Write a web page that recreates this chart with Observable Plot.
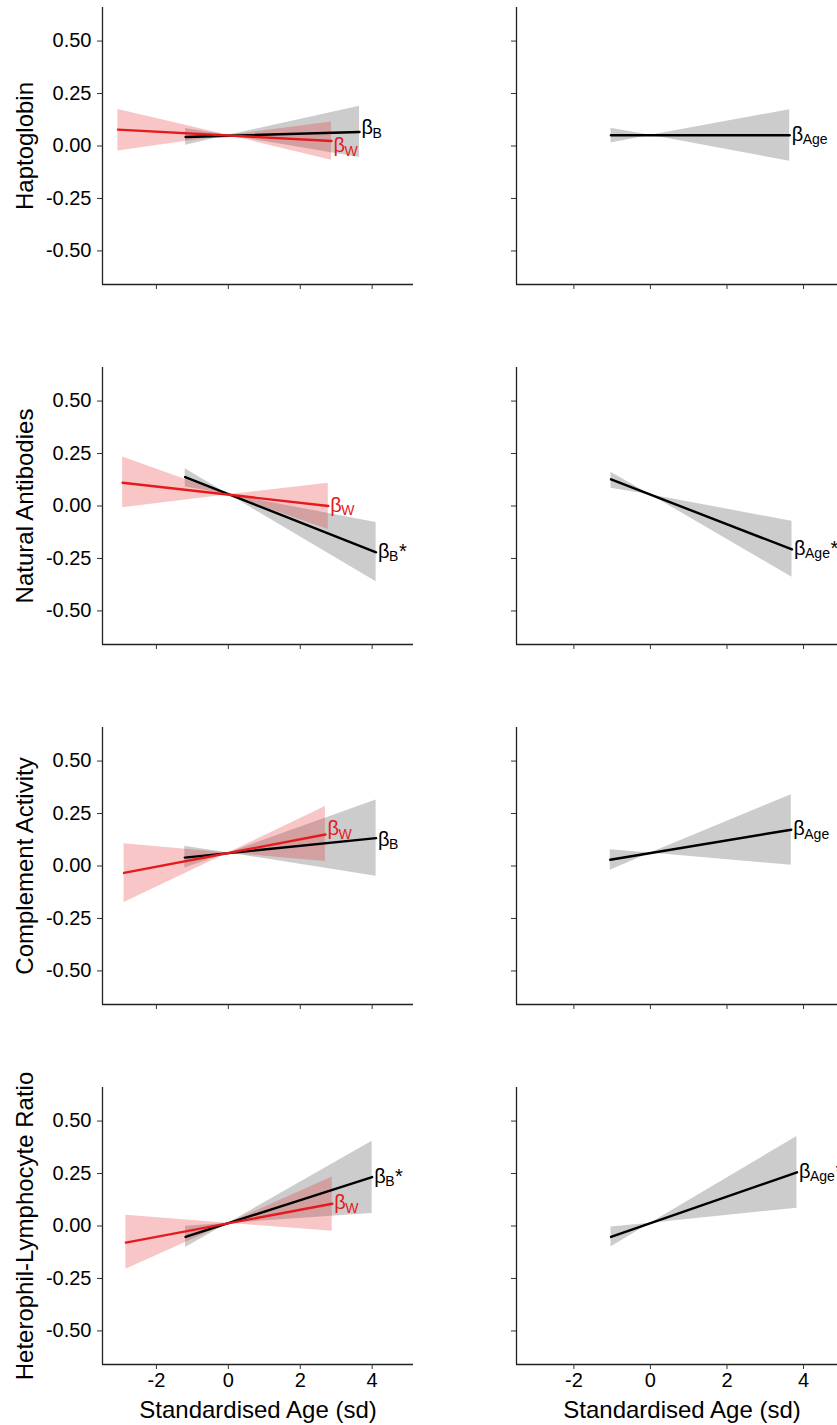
<!DOCTYPE html>
<html><head><meta charset="utf-8">
<script src="https://cdn.jsdelivr.net/npm/d3@7"></script>
<script src="https://cdn.jsdelivr.net/npm/@observablehq/plot@0.6"></script>
<style>
html,body{margin:0;padding:0;background:#fff;overflow:hidden;}
#root{position:relative;width:837px;height:1425px;overflow:hidden;}
#root svg{position:absolute;overflow:visible;}
</style></head><body><div id="root"></div>
<script>
const FONT = '"Liberation Sans", Arial, Helvetica, sans-serif';
const RED = "#e41a1c";

// ---- data ----
const traits = ["Haptoglobin", "Natural Antibodies", "Complement Activity", "Heterophil-Lymphocyte Ratio"];
const xTicks = [-2, 0, 2, 4];
const yTicks = [-0.5, -0.25, 0, 0.25, 0.5];
const xDomain = [-3.5, 5.15];
const yDomain = [-0.66, 0.66];
const xTitle = "Standardised Age (sd)";

// within-individual slope (red), left column: start and end of fitted line
const withinLines = [
  {x0: -3.07, y0: 0.078, x1: 2.87, y1: 0.024},
  {x0: -2.94, y0: 0.111, x1: 2.78, y1: 0.000},
  {x0: -2.90, y0: -0.033, x1: 2.70, y1: 0.150},
  {x0: -2.85, y0: -0.079, x1: 2.89, y1: 0.106}
];
// confidence band: lower/upper at start, pivot, lower/upper at end
const withinBands = [
  {lo0: -0.024, hi0: 0.174, xp: 0, yp: 0.051, lo1: -0.068, hi1: 0.114},
  {lo0: -0.008, hi0: 0.233, xp: 0, yp: 0.054, lo1: -0.112, hi1: 0.109},
  {lo0: -0.174, hi0: 0.106, xp: 0, yp: 0.062, lo1: 0.022, hi1: 0.283},
  {lo0: -0.206, hi0: 0.051, xp: 0, yp: 0.013, lo1: -0.025, hi1: 0.233}
];
// between-individual slope (black), left column
const betweenLines = [
  {x0: -1.19, y0: 0.043, x1: 3.65, y1: 0.067},
  {x0: -1.20, y0: 0.138, x1: 4.11, y1: -0.221},
  {x0: -1.21, y0: 0.040, x1: 4.11, y1: 0.133},
  {x0: -1.19, y0: -0.052, x1: 4.00, y1: 0.233}
];
const betweenBands = [
  {lo0: 0.003, hi0: 0.083, xp: 0, yp: 0.051, lo1: -0.055, hi1: 0.189},
  {lo0: 0.090, hi0: 0.178, xp: 0, yp: 0.056, lo1: -0.361, hi1: -0.079},
  {lo0: -0.009, hi0: 0.094, xp: 0, yp: 0.062, lo1: -0.049, hi1: 0.315},
  {lo0: -0.103, hi0: -0.001, xp: 0, yp: 0.013, lo1: 0.059, hi1: 0.404}
];
// overall age slope (black), right column
const ageLines = [
  {x0: -1.03, y0: 0.051, x1: 3.64, y1: 0.051},
  {x0: -1.03, y0: 0.127, x1: 3.70, y1: -0.207},
  {x0: -1.05, y0: 0.030, x1: 3.68, y1: 0.173},
  {x0: -1.03, y0: -0.052, x1: 3.83, y1: 0.256}
];
const ageBands = [
  {lo0: 0.014, hi0: 0.084, xp: 0, yp: 0.051, lo1: -0.073, hi1: 0.173},
  {lo0: 0.085, hi0: 0.161, xp: 0, yp: 0.054, lo1: -0.340, hi1: -0.073},
  {lo0: -0.020, hi0: 0.078, xp: 0, yp: 0.062, lo1: 0.003, hi1: 0.340},
  {lo0: -0.100, hi0: -0.005, xp: 0, yp: 0.013, lo1: 0.085, hi1: 0.427}
];
const withinSig = ["", "", "", ""];
const betweenSig = ["", "*", "", "*"];
const ageSig = ["", "*", "", "*"];

// ---- label vertical nudges (px), as placed in the figure ----
const withinNudge = [6, 0, -5, 0];
const betweenNudge = [-3, 0, 2, 0];
const ageNudge = [0, 0, 0, 0];

const ctx = document.createElement("canvas").getContext("2d");
function tw(t, size) { ctx.font = `${size}px "Liberation Sans"`; return ctx.measureText(t).width; }

function bandPts(l, b) {
  return [{x: l.x0, lo: b.lo0, hi: b.hi0}, {x: b.xp, lo: b.yp, hi: b.yp}, {x: l.x1, lo: b.lo1, hi: b.hi1}];
}
function linePts(l) { return [{x: l.x0, y: l.y0}, {x: l.x1, y: l.y1}]; }

function labelMarks(l, sub, sig, color, nudge) {
  const bSize = 20, sSize = 14;
  const pt = [{x: l.x1, y: l.y1}];
  const base = nudge + 5.5;
  const dxB = 2;
  const dxS = dxB + tw("β", bSize) - 0.5;
  const dxStar = dxS + tw(sub, sSize) + 0.5;
  const common = {x: "x", y: "y", textAnchor: "start", lineAnchor: "bottom", fill: color, fontFamily: FONT};
  const m = [
    Plot.text(pt, {...common, text: () => "β", dx: dxB, dy: base, fontSize: bSize}),
    Plot.text(pt, {...common, text: () => sub, dx: dxS, dy: base + 3.5, fontSize: sSize})
  ];
  if (sig) m.push(Plot.text(pt, {...common, text: () => sig, dx: dxStar, dy: base, fontSize: bSize}));
  return m;
}

function panel(row, side) {
  const left = side === "left";
  const bottom = row === 3;
  const marks = [];
  if (left) {
    marks.push(Plot.areaY(bandPts(betweenLines[row], betweenBands[row]), {x: "x", y1: "lo", y2: "hi", fill: "#000", fillOpacity: 0.2}));
    marks.push(Plot.areaY(bandPts(withinLines[row], withinBands[row]), {x: "x", y1: "lo", y2: "hi", fill: RED, fillOpacity: 0.25}));
    marks.push(Plot.line(linePts(betweenLines[row]), {x: "x", y: "y", stroke: "#000", strokeWidth: 2.4}));
    marks.push(Plot.line(linePts(withinLines[row]), {x: "x", y: "y", stroke: RED, strokeWidth: 2.4}));
    marks.push(...labelMarks(betweenLines[row], "B", betweenSig[row], "#000", betweenNudge[row]));
    marks.push(...labelMarks(withinLines[row], "W", withinSig[row], RED, withinNudge[row]));
    marks.push(Plot.text([traits[row]], {frameAnchor: "left", dx: -77, rotate: -90, textAnchor: "middle", lineAnchor: "middle", fontSize: 24, fill: "#000", fontFamily: FONT}));
  } else {
    marks.push(Plot.areaY(bandPts(ageLines[row], ageBands[row]), {x: "x", y1: "lo", y2: "hi", fill: "#000", fillOpacity: 0.2}));
    marks.push(Plot.line(linePts(ageLines[row]), {x: "x", y: "y", stroke: "#000", strokeWidth: 2.4}));
    marks.push(...labelMarks(ageLines[row], "Age", ageSig[row], "#000", ageNudge[row]));
  }
  marks.push(Plot.ruleX([xDomain[0]], {stroke: "#222", strokeWidth: 1.3}));
  marks.push(Plot.ruleY([yDomain[0]], {stroke: "#222", strokeWidth: 1.3}));
  marks.push(Plot.axisY({ticks: yTicks, tickSize: 5, tickPadding: 6, fontSize: 20, label: null,
    stroke: "#333", fill: "#000", fontFamily: FONT,
    tickFormat: left ? (d => d.toFixed(2)) : (() => "")}));
  marks.push(Plot.axisX({ticks: xTicks, tickSize: 5, tickPadding: 3, fontSize: 20, label: null,
    stroke: "#333", fill: "#000", fontFamily: FONT,
    tickFormat: bottom ? (d => String(d)) : (() => "")}));
  if (bottom) marks.push(Plot.text([xTitle], {frameAnchor: "bottom", dy: 46, textAnchor: "middle", lineAnchor: "middle", fontSize: 24, fill: "#000", fontFamily: FONT}));

  const svg = Plot.plot({
    width: left ? 420 : 434,
    height: 360,
    marginLeft: left ? 102 : 96,
    marginRight: 7,
    marginTop: 7,
    marginBottom: 76,
    x: {domain: xDomain},
    y: {domain: yDomain},
    style: {fontFamily: FONT, background: "transparent", overflow: "visible"},
    marks
  });
  svg.style.left = (left ? 0 : 420) + "px";
  svg.style.top = (row * 360) + "px";
  svg.style.overflow = "visible";
  return svg;
}

const root = document.getElementById("root");
for (let r = 0; r < 4; r++) {
  root.appendChild(panel(r, "left"));
  root.appendChild(panel(r, "right"));
}
</script></body></html>
